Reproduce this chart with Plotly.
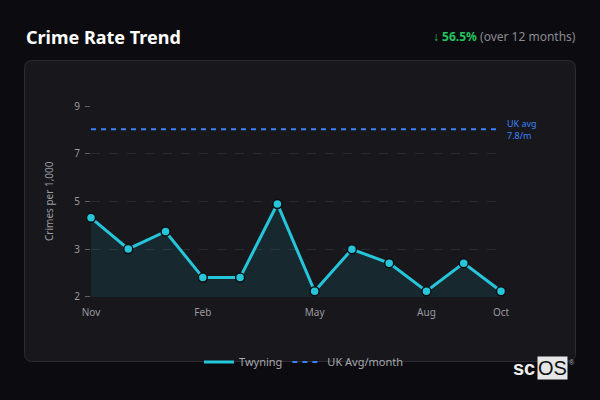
import plotly.graph_objects as go

# ---- data ----
months = ["Nov", "Dec", "Jan", "Feb", "Mar", "Apr", "May", "Jun", "Jul", "Aug", "Sep", "Oct"]
twyning = [4.55, 3.41, 4.05, 2.36, 2.36, 5.06, 1.86, 3.40, 2.89, 1.86, 2.89, 1.86]
uk_avg = 7.8
uk_avg_series = [uk_avg] * len(months)
x_tick_labels = ["Nov", "Feb", "May", "Aug", "Oct"]
y_tick_vals = [1.65, 3.4, 5.15, 6.9, 8.65]
y_tick_text = ["2", "3", "5", "7", "9"]

# ---- geometry helpers (pixel -> paper) ----
W, H = 600, 400
ML, MR, MT, MB = 91, 99, 106, 103
PW, PH = W - ML - MR, H - MT - MB


def px(x):
    return (x - ML) / PW


def py(y):
    return (H - MB - y) / PH


CYAN = "#26c6da"
BLUE = "#3b82f6"
GREEN = "#22c55e"
GRAY = "#9a9aa0"
CARD = "#17171c"
PAGE = "#0c0c10"

fig = go.Figure()

# fill area
fig.add_trace(go.Scatter(
    x=months, y=twyning, mode="lines", fill="tozeroy",
    fillcolor="rgba(38,198,218,0.10)", line=dict(width=0, color=CYAN),
    showlegend=False, hoverinfo="skip", cliponaxis=True,
))
# UK average dashed line
fig.add_trace(go.Scatter(
    x=months, y=uk_avg_series, mode="lines", name="UK Avg/month",
    line=dict(color=BLUE, width=2, dash="5px,5px"),
))
# Twyning line
fig.add_trace(go.Scatter(
    x=months, y=twyning, mode="lines", name="Twyning",
    line=dict(color=CYAN, width=3), cliponaxis=False,
))
# markers
fig.add_trace(go.Scatter(
    x=months, y=twyning, mode="markers", showlegend=False,
    marker=dict(size=9, color=CYAN, line=dict(color="#0e0e12", width=1.5)),
    cliponaxis=False,
))

# card background with rounded corners
L, R, T, B, r = 24.5, 575.5, 60.5, 361.5, 8
path = (
    f"M {px(L + r)},{py(T)} L {px(R - r)},{py(T)} Q {px(R)},{py(T)} {px(R)},{py(T + r)} "
    f"L {px(R)},{py(B - r)} Q {px(R)},{py(B)} {px(R - r)},{py(B)} "
    f"L {px(L + r)},{py(B)} Q {px(L)},{py(B)} {px(L)},{py(B - r)} "
    f"L {px(L)},{py(T + r)} Q {px(L)},{py(T)} {px(L + r)},{py(T)} Z"
)
fig.add_shape(type="path", path=path, xref="paper", yref="paper",
              fillcolor=CARD, line=dict(color="#2c2c32", width=1), layer="below")

annotations = [
    dict(text="<b>Crime Rate Trend</b>", x=px(24), y=py(37), xref="paper", yref="paper",
         xanchor="left", yanchor="middle", showarrow=False,
         font=dict(family="Noto Sans", size=18, color="#ffffff")),
    dict(text=f"<span style='color:{GREEN}'><b>↓ 56.5%</b></span> (over 12 months)",
         x=px(578), y=py(37), xref="paper", yref="paper",
         xanchor="right", yanchor="middle", showarrow=False,
         font=dict(family="Noto Sans", size=12, color="#8a8a90")),
    dict(text="UK avg<br>7.8/m", x=px(505), y=uk_avg, xref="paper", yref="y",
         xanchor="left", yanchor="middle", align="left", showarrow=False,
         font=dict(family="Noto Sans", size=9, color=BLUE)),
    dict(text="Crimes per 1,000", x=px(49), y=py(201), xref="paper", yref="paper",
         xanchor="center", yanchor="middle", textangle=-90, showarrow=False,
         font=dict(family="Noto Sans", size=10, color=GRAY)),
    dict(text="<b>sc</b>", x=px(537), y=py(368), xref="paper", yref="paper",
         xanchor="right", yanchor="middle", showarrow=False,
         font=dict(family="Liberation Sans", size=20, color="#eeeeee")),
    dict(text="OS", x=px(537), y=py(368), xref="paper", yref="paper",
         xanchor="left", yanchor="middle", showarrow=False, bgcolor="#e6e6e6",
         borderpad=0,
         font=dict(family="Liberation Sans", size=20, color="#101014")),
    dict(text="®", x=px(572), y=py(362), xref="paper", yref="paper",
         xanchor="center", yanchor="middle", showarrow=False,
         font=dict(family="Liberation Sans", size=7, color="#aaaaaa")),
]

fig.update_layout(
    width=W, height=H,
    margin=dict(l=ML, r=MR, t=MT, b=MB),
    paper_bgcolor=PAGE, plot_bgcolor="rgba(0,0,0,0)",
    font=dict(family="Noto Sans", color=GRAY),
    showlegend=True,
    legend=dict(orientation="h", x=px(304), y=py(362), xanchor="center", yanchor="middle",
                font=dict(family="Noto Sans", size=11, color="#a8a8ae"),
                bgcolor="rgba(0,0,0,0)", traceorder="reversed"),
    annotations=annotations,
)
fig.update_xaxes(
    type="category", range=[0, len(months) - 1],
    tickmode="array", tickvals=x_tick_labels, ticktext=x_tick_labels,
    showgrid=False, zeroline=False, showline=False, ticks="",
    ticklabelstandoff=8,
    tickfont=dict(family="Noto Sans", size=10, color=GRAY),
)
fig.update_yaxes(
    range=[y_tick_vals[0] - 0.001, y_tick_vals[-1] + 0.001],
    tickmode="array", tickvals=y_tick_vals, ticktext=y_tick_text,
    showgrid=True, gridcolor="#2a2a30", griddash="dash", gridwidth=1,
    zeroline=False, showline=False, ticks="outside", ticklen=5, tickcolor="#606068",
    ticklabelstandoff=3,
    tickfont=dict(family="Noto Sans", size=10, color=GRAY),
)

fig.write_html(
    "out.html",
    config={"displayModeBar": False},
    post_script="document.body.style.margin='0';document.body.style.background='#0c0c10';",
)
